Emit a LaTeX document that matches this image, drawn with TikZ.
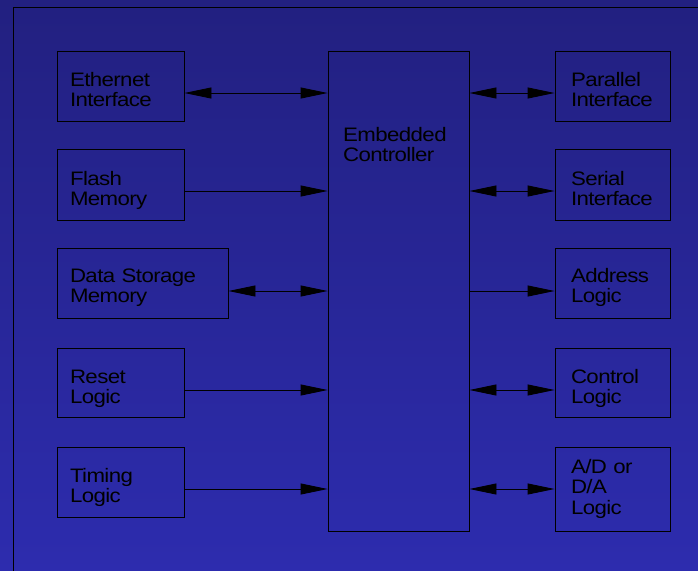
\documentclass[tikz,border=0pt]{standalone}
\usepackage{fontspec}
\setmainfont{Liberation Sans}[FakeStretch=1.14, LetterSpace=-3]
\usetikzlibrary{arrows.meta}
\definecolor{bgtop}{RGB}{34,32,128}
\definecolor{bgbot}{RGB}{45,44,174}
\tikzset{
  blk/.style={draw=black, line width=0.9pt, rectangle, inner xsep=13pt, inner ysep=0pt,
    align=left, text height=35pt, text depth=35pt, font=\fontsize{19.5}{20.5}\selectfont},
  onearr/.style={line width=0.9pt, -{Triangle[length=27pt,width=11pt]}},
  twoarr/.style={line width=0.9pt, {Triangle[length=27pt,width=11pt]}-{Triangle[length=27pt,width=11pt]}}
}
\begin{document}
\begin{tikzpicture}[x=1pt,y=-1pt]
            \useasboundingbox (0,0) rectangle (698,570);
            \shade[top color=bgtop, bottom color=bgbot] (0,0) rectangle (698,570);
            \draw[line width=0.9pt] (13,590) -- (13,7.5) -- (720,7.5);
            % Controlador central
            \node at (398.5,291) (ctrl) [blk, text width=115pt, text height=240pt, text depth=240pt] {};
            \node at (343,127) (ctrltxt) [anchor=north west, inner sep=0pt, align=left, font=\fontsize{19.5}{20.5}\selectfont] {Embedded\\Controller};
            % Blocos da esquerda
            \node at (120.5,86) (eth) [blk, text width=101pt] {Ethernet\\Interface};
            \node at (120.5,184.5) (flash) [blk, text width=101pt, text height=36pt] {Flash\\Memory};
            \node at (142.5,283) (data) [blk, text width=145pt, text height=34pt, text depth=36pt] {Data Storage\\Memory};
            \node at (120.5,382.5) (reset) [blk, text width=101pt, text depth=34pt] {Reset\\Logic};
            \node at (120.5,482) (timing) [blk, text width=101pt] {Timing\\Logic};
            % Blocos da direita
            \node at (612.5,86) (par) [blk, inner xsep=16pt, text width=83pt] {Parallel\\Interface};
            \node at (612.5,184.5) (ser) [blk, inner xsep=16pt, text width=83pt, text height=36pt] {Serial\\Interface};
            \node at (612.5,283) (addr) [blk, inner xsep=16pt, text width=83pt, text height=34pt, text depth=36pt] {Address\\Logic};
            \node at (612.5,382.5) (cntl) [blk, inner xsep=16pt, text width=83pt, text depth=34pt] {Control\\Logic};
            \node at (612.5,489) (ad) [blk, inner xsep=16pt, text width=83pt, text height=26pt, text depth=58pt] {A/D or\\D/A\\Logic};
            % Setas da esquerda
            \draw[twoarr] ([yshift=-7pt]eth.east) -- ([yshift=-7pt]eth.east -| ctrl.west);
            \draw[onearr] ([yshift=-6.5pt]flash.east) -- ([yshift=-6.5pt]flash.east -| ctrl.west);
            \draw[twoarr] ([yshift=-8pt]data.east) -- ([yshift=-8pt]data.east -| ctrl.west);
            \draw[onearr] ([yshift=-7.5pt]reset.east) -- ([yshift=-7.5pt]reset.east -| ctrl.west);
            \draw[onearr] ([yshift=-7pt]timing.east) -- ([yshift=-7pt]timing.east -| ctrl.west);
            % Setas da direita
            \draw[twoarr] ([yshift=-7pt]par.west -| ctrl.east) -- ([yshift=-7pt]par.west);
            \draw[twoarr] ([yshift=-6.5pt]ser.west -| ctrl.east) -- ([yshift=-6.5pt]ser.west);
            \draw[onearr] ([yshift=-8pt]addr.west -| ctrl.east) -- ([yshift=-8pt]addr.west);
            \draw[twoarr] ([yshift=-7.5pt]cntl.west -| ctrl.east) -- ([yshift=-7.5pt]cntl.west);
            \draw[twoarr] (ad.west -| ctrl.east) -- (ad.west);
\end{tikzpicture}
\end{document}
